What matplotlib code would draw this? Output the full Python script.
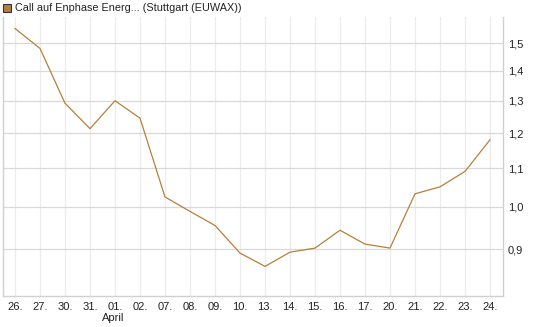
import matplotlib
matplotlib.use("Agg")
import matplotlib.pyplot as plt
from matplotlib.patches import Rectangle
from matplotlib.ticker import NullLocator

days = ["26.", "27.", "30.", "31.", "01.", "02.", "07.", "08.", "09.", "10.",
        "13.", "14.", "15.", "16.", "17.", "20.", "21.", "22.", "23.", "24."]
prices = [1.555, 1.48, 1.292, 1.213, 1.30, 1.245, 1.024, 0.988, 0.954, 0.891,
          0.862, 0.893, 0.902, 0.943, 0.911, 0.902, 1.032, 1.050, 1.091, 1.180]
yticks = [0.9, 1.0, 1.1, 1.2, 1.3, 1.4, 1.5]
ytick_labels = ["0,9", "1,0", "1,1", "1,2", "1,3", "1,4", "1,5"]
title = "Call auf Enphase Energ... (Stuttgart (EUWAX))"

plt.rcParams["font.family"] = ["Liberation Sans", "DejaVu Sans"]

fig = plt.figure(figsize=(5.45, 3.27), dpi=100)
ax = fig.add_axes([3 / 545, 1 - 296 / 327, 500 / 545, 279 / 327])

x = list(range(len(days)))
ax.plot(x, prices, color="#b5803a", lw=0.9)

ax.set_yscale("log")
ax.set_ylim(0.801, 1.60)
ax.set_xlim(-0.48, len(days) - 0.48)
ax.yaxis.set_minor_locator(NullLocator())
ax.set_yticks(yticks)
ax.set_yticklabels(ytick_labels)
ax.set_xticks(x)
ax.set_xticklabels(days)

ax.yaxis.tick_right()
ax.tick_params(axis="y", length=0, pad=3.5, labelsize=8, colors="#222222")
ax.tick_params(axis="x", length=0, pad=4, labelsize=8, colors="#222222")

for xv in x:
    ax.axvline(xv, color="#ececec", lw=0.9, zorder=0)
for yv in yticks:
    ax.axhline(yv, color="#d9d9d9", lw=0.9, zorder=0)

for side in ["left", "bottom", "right"]:
    ax.spines[side].set_color("#d0d0d0")
    ax.spines[side].set_linewidth(1.0)
ax.spines["top"].set_visible(False)

fig.text(102 / 545, 1 - 318 / 327, "April", fontsize=8, color="#222222",
         ha="left", va="center")

fig.patches.append(Rectangle((3 / 545, 1 - 12 / 327), 8 / 545, 8 / 327,
                             transform=fig.transFigure, facecolor="#b5803a",
                             edgecolor="#333333", lw=0.8))
fig.text(15 / 545, 1 - 8 / 327, title, fontsize=7.8, color="#222222",
         ha="left", va="center")

fig.savefig("out.png", dpi=100)
